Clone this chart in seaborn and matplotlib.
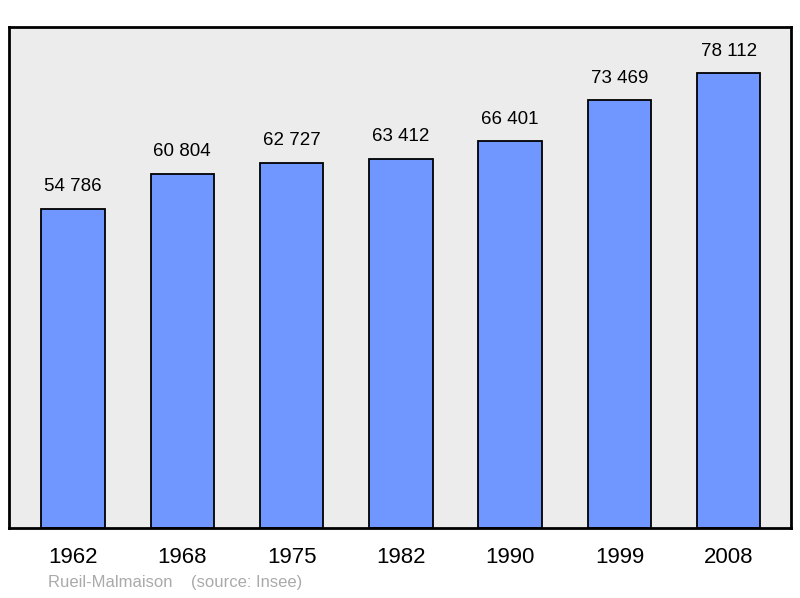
import matplotlib
matplotlib.use("Agg")
import matplotlib.pyplot as plt
import seaborn as sns
import pandas as pd

years = ["1962", "1968", "1975", "1982", "1990", "1999", "2008"]
population = [54786, 60804, 62727, 63412, 66401, 73469, 78112]
labels = ["54 786", "60 804", "62 727", "63 412", "66 401", "73 469", "78 112"]

df = pd.DataFrame({"year": years, "pop": population})

fig = plt.figure(figsize=(8, 5.98), dpi=100)
ax = fig.add_axes([9/800, 70/598, 782/800, 501/598])
ax.set_facecolor("#ececec")
sns.barplot(data=df, x="year", y="pop", color="#7097ff", saturation=1, width=0.58,
            edgecolor="black", linewidth=1.3, ax=ax)
for i, (v, t) in enumerate(zip(population, labels)):
    ax.text(i, v + 2300, t, ha="center", va="bottom", fontsize=13.5, family="Liberation Sans")
ax.set_xlim(-0.585, 6.57)
ax.set_ylim(0, 86000)
ax.set_yticks([])
ax.set_xlabel("")
ax.set_ylabel("")
ax.tick_params(axis="x", length=0, labelsize=16, pad=14)
for lab in ax.get_xticklabels():
    lab.set_family("Liberation Sans")
for s in ax.spines.values():
    s.set_linewidth(2)
fig.text(48/800, 1 - 583/598, "Rueil-Malmaison    (source: Insee)", color="#aaaaaa",
         fontsize=12, va="center", family="Liberation Sans")
fig.savefig("out.png", dpi=100)
